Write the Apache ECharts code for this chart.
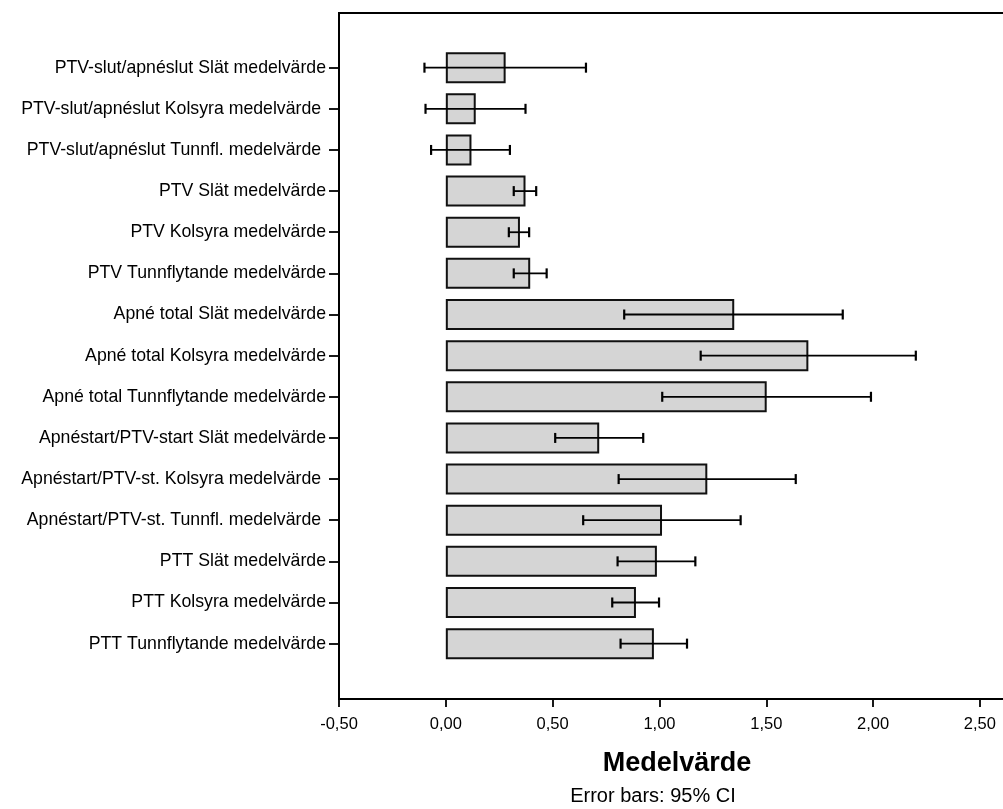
<!DOCTYPE html>
<html>
<head>
<meta charset="utf-8">
<script src="https://cdn.jsdelivr.net/npm/echarts@6/dist/echarts.min.js"></script>
<style>
html,body{margin:0;padding:0;background:#fff;}
#main{width:1003px;height:809px;}
</style>
</head>
<body>
<div id="main"></div>
<script>
// kategorier uppifrån och ned (några har ett avslutande mellanslag som i originalet)
var categories = [
    'PTV-slut/apnéslut Slät medelvärde',
    'PTV-slut/apnéslut Kolsyra medelvärde ',
    'PTV-slut/apnéslut Tunnfl. medelvärde ',
    'PTV Slät medelvärde',
    'PTV Kolsyra medelvärde',
    'PTV Tunnflytande medelvärde',
    'Apné total Slät medelvärde',
    'Apné total Kolsyra medelvärde',
    'Apné total Tunnflytande medelvärde',
    'Apnéstart/PTV-start Slät medelvärde',
    'Apnéstart/PTV-st. Kolsyra medelvärde ',
    'Apnéstart/PTV-st. Tunnfl. medelvärde ',
    'PTT Slät medelvärde',
    'PTT Kolsyra medelvärde',
    'PTT Tunnflytande medelvärde'
];
var means  = [0.28, 0.14, 0.12, 0.373, 0.347, 0.395, 1.35, 1.697, 1.502, 0.718, 1.224, 1.012, 0.988, 0.89, 0.974];
var ciLow  = [-0.10, -0.095, -0.069, 0.318, 0.295, 0.318, 0.835, 1.193, 1.013, 0.512, 0.809, 0.643, 0.804, 0.779, 0.818];
var ciHigh = [0.656, 0.373, 0.30, 0.423, 0.39, 0.472, 1.858, 2.20, 1.99, 0.924, 1.638, 1.38, 1.168, 0.998, 1.129];
var xMin = -0.5, xMax = 2.8, xStep = 0.5;
var axisTitle = 'Medelvärde';
var footNote = 'Error bars: 95% CI';

var font = "'Liberation Sans', Arial, sans-serif";

var errData = [];
for (var i = 0; i < categories.length; i++) {
    errData.push([i, ciLow[i], ciHigh[i]]);
}

function renderErr(params, api) {
    var idx = api.value(0);
    var p1 = api.coord([api.value(1), idx]);
    var p2 = api.coord([api.value(2), idx]);
    var cap = 5;
    var st = {stroke: '#000', lineWidth: 1.8};
    return {
        type: 'group',
        children: [
            {type: 'line', shape: {x1: p1[0], y1: p1[1], x2: p2[0], y2: p2[1]}, style: st},
            {type: 'line', shape: {x1: p1[0], y1: p1[1] - cap, x2: p1[0], y2: p1[1] + cap}, style: {stroke: '#000', lineWidth: 2.2}},
            {type: 'line', shape: {x1: p2[0], y1: p2[1] - cap, x2: p2[0], y2: p2[1] + cap}, style: {stroke: '#000', lineWidth: 2.2}}
        ]
    };
}

var myChart = echarts.init(document.getElementById('main'));
var option = {
    backgroundColor: '#fff',
    animation: false,
    textStyle: {fontFamily: font},
    grid: [
        // ramen med x-axeln
        {left: 339, top: 13, width: 705, height: 686, outerBoundsMode: 'none', containLabel: false,
         show: true, borderColor: '#000', borderWidth: 2, backgroundColor: 'transparent'},
        // kategorierna
        {left: 339, top: 47.1, width: 705, height: 617.1, outerBoundsMode: 'none', containLabel: false}
    ],
    xAxis: [
        {
            gridIndex: 0, type: 'value', min: xMin, max: xMax, interval: xStep,
            splitLine: {show: false},
            axisLine: {show: true, lineStyle: {color: '#000', width: 1.8}},
            axisTick: {show: true, length: 8, lineStyle: {color: '#000', width: 1.8}},
            axisLabel: {
                color: '#000', fontSize: 16.5, margin: 17, showMaxLabel: false,
                formatter: function (v) { return v.toFixed(2).replace('.', ','); }
            }
        },
        {gridIndex: 1, type: 'value', min: xMin, max: xMax, show: false, splitLine: {show: false}}
    ],
    yAxis: [
        {gridIndex: 0, type: 'value', min: 0, max: 1, show: false, splitLine: {show: false}},
        {
            gridIndex: 1, type: 'category', inverse: true, data: categories,
            axisLine: {show: false, onZero: false},
            axisTick: {show: true, alignWithLabel: true, length: 10, lineStyle: {color: '#000', width: 1.8}},
            axisLabel: {color: '#000', fontSize: 17.7, margin: 13, interval: 0}
        }
    ],
    series: [
        {
            type: 'bar', xAxisIndex: 1, yAxisIndex: 1, data: means, barWidth: 31,
            itemStyle: {color: '#d5d5d5', borderColor: '#111', borderWidth: 2}
        },
        {
            type: 'custom', xAxisIndex: 1, yAxisIndex: 1, data: errData,
            renderItem: renderErr, encode: {x: [1, 2], y: 0}, z: 5
        }
    ],
    graphic: [
        {type: 'text', x: 677, y: 764,
         style: {text: axisTitle, font: 'bold 27px ' + font, fill: '#000', textAlign: 'center', textVerticalAlign: 'middle'}},
        {type: 'text', x: 653, y: 796,
         style: {text: footNote, font: '20px ' + font, fill: '#000', textAlign: 'center', textVerticalAlign: 'middle'}}
    ]
};
myChart.setOption(option);
</script>
</body>
</html>
